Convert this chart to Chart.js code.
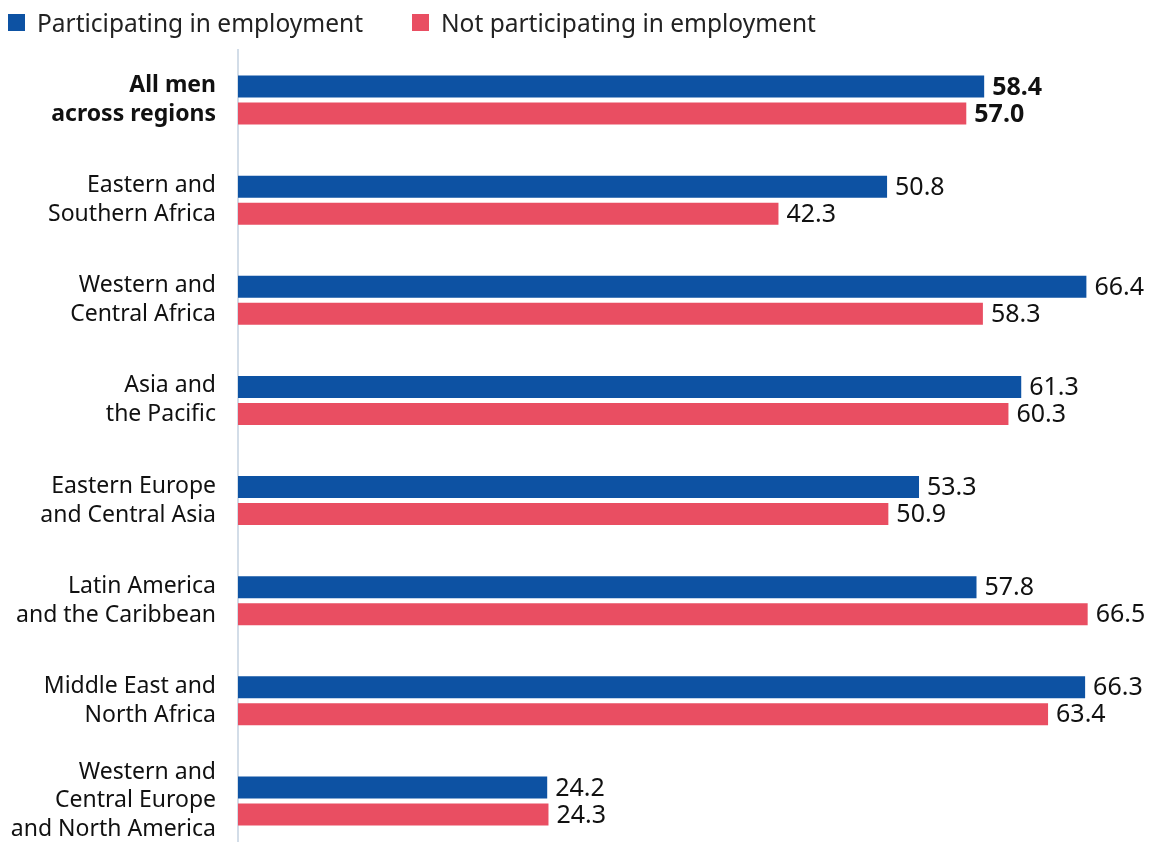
<!DOCTYPE html>
<html>
<head>
<meta charset="utf-8">
<script src="https://cdn.jsdelivr.net/npm/chart.js@4"></script>
<style>
    html, body { margin: 0; padding: 0; background: #fff; overflow: hidden; }
    #wrap { position: relative; width: 1149px; height: 851px; }
    .legend { position: absolute; top: 7px; left: 8px; font-family: "Noto Sans", sans-serif; font-size: 24.5px; color: #222; white-space: nowrap; }
    .legend span.item { position: absolute; top: 0; display: flex; align-items: center; height: 30px; }
    .legend span.box { display: inline-block; width: 17px; height: 17px; margin-right: 12px; }
</style>
</head>
<body>
<div id="wrap">
    <canvas id="chart"></canvas>
    <div class="legend">
        <span class="item" style="left:0"><span class="box" style="background:#0d52a3"></span>Participating in employment</span>
        <span class="item" style="left:404px"><span class="box" style="background:#e94e62"></span>Not participating in employment</span>
    </div>
</div>
<script>
// Chart data
const categories = [
    ['All men', 'across regions'],
    ['Eastern and', 'Southern Africa'],
    ['Western and', 'Central Africa'],
    ['Asia and', 'the Pacific'],
    ['Eastern Europe', 'and Central Asia'],
    ['Latin America', 'and the Caribbean'],
    ['Middle East and', 'North Africa'],
    ['Western and', 'Central Europe', 'and North America']
];
const participating = [58.4, 50.8, 66.4, 61.3, 53.3, 57.8, 66.3, 24.2];
const notParticipating = [57.0, 42.3, 58.3, 60.3, 50.9, 66.5, 63.4, 24.3];

const BLUE = '#0d52a3';
const RED = '#e94e62';
const FONT = '"Noto Sans", sans-serif';

// draws the value next to each bar end
const valueLabels = {
    id: 'valueLabels',
    afterDatasetsDraw(chart) {
        const ctx = chart.ctx;
        ctx.save();
        ctx.textBaseline = 'middle';
        ctx.textAlign = 'left';
        ctx.fillStyle = '#111';
        chart.data.datasets.forEach((ds, di) => {
            const meta = chart.getDatasetMeta(di);
            meta.data.forEach((bar, i) => {
                ctx.font = (i === 0 ? 'bold ' : '') + '25px ' + FONT;
                ctx.fillText(ds.data[i].toFixed(1), bar.x + 8, bar.y + 1);
            });
        });
        ctx.restore();
    }
};

const canvas = document.getElementById('chart');
canvas.width = 1149;
canvas.height = 851;

new Chart(canvas.getContext('2d'), {
    type: 'bar',
    data: {
        labels: categories,
        datasets: [
            { label: 'Participating in employment', data: participating, backgroundColor: BLUE },
            { label: 'Not participating in employment', data: notParticipating, backgroundColor: RED }
        ]
    },
    options: {
        indexAxis: 'y',
        responsive: false,
        animation: false,
        categoryPercentage: 0.54,
        barPercentage: 0.815,
        layout: { padding: { top: 50, right: 0, bottom: 0, left: 0 } },
        plugins: {
            legend: { display: false },
            tooltip: { enabled: false }
        },
        scales: {
            x: {
                display: false,
                min: 0,
                max: 71.3
            },
            y: {
                afterFit(scale) {
                    scale.width = 238;
                    // let the multi-line labels overflow the chart area
                    scale.paddingTop = 0;
                    scale.paddingBottom = 0;
                },
                grid: { display: false, drawTicks: false },
                border: { display: true, color: '#d3dde8', width: 2 },
                ticks: {
                    padding: 22,
                    color: '#111',
                    font: (ctx) => ({
                        family: FONT,
                        size: 23,
                        weight: ctx.index === 0 ? 'bold' : 'normal',
                        lineHeight: 1.26
                    })
                }
            }
        }
    },
    plugins: [valueLabels]
});
</script>
</body>
</html>
